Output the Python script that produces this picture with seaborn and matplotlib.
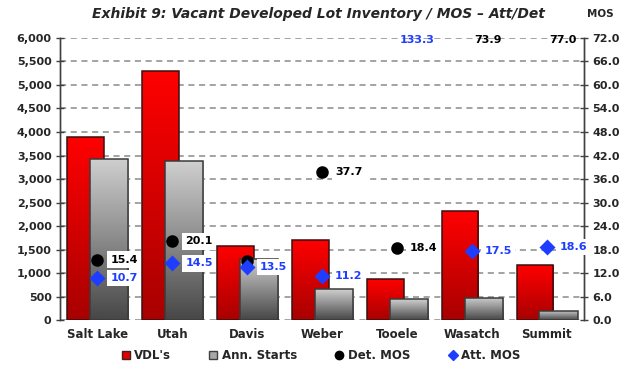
import numpy as np
import pandas as pd
import matplotlib
matplotlib.use("Agg")
import matplotlib.pyplot as plt
import matplotlib.transforms as mtransforms
from matplotlib.colors import LinearSegmentedColormap
from matplotlib.lines import Line2D
from matplotlib.ticker import FuncFormatter, MultipleLocator
import seaborn as sns

regions = ["Salt Lake", "Utah", "Davis", "Weber", "Tooele", "Wasatch", "Summit"]
vdls = [3900, 5300, 1580, 1710, 870, 2310, 1170]
ann_starts = [3430, 3380, 1300, 650, 440, 470, 200]
det_mos = [15.4, 20.1, 15.0, 37.7, 18.4, 73.9, 77.0]
att_mos = [10.7, 14.5, 13.5, 11.2, 133.3, 17.5, 18.6]
hidden_det_labels = ["Davis"]  # label sits behind the Att. MOS label

title = "Exhibit 9: Vacant Developed Lot Inventory / MOS \u2013 Att/Det"
mos_max = 72

sns.set_style("white")
plt.rcParams["font.family"] = ["DejaVu Sans"]
plt.rcParams["font.weight"] = "bold"

fig, ax = plt.subplots(figsize=(6.31, 3.67), dpi=100)
fig.subplots_adjust(left=0.095, right=0.9255, top=0.8965, bottom=0.128)

df = pd.DataFrame({"region": regions, "vdl": vdls, "starts": ann_starts})
sns.barplot(data=df, x="region", y="vdl", ax=ax, width=0.49, color="red")
n_red = len(ax.patches)
sns.barplot(data=df, x="region", y="starts", ax=ax, width=0.51, color="gray")


def gradient_bar(patch, shift, top, bottom, z):
    # shift the whole series sideways and paint a vertical gradient inside each bar
    tr = mtransforms.Affine2D().translate(shift, 0) + ax.transData
    patch.set_transform(tr)
    x0, y0 = patch.get_x(), patch.get_y()
    w, h = patch.get_width(), patch.get_height()
    cmap = LinearSegmentedColormap.from_list("g", [bottom, top])
    grad = np.linspace(0, 1, 128).reshape(-1, 1)
    im = ax.imshow(grad, extent=[x0, x0 + w, y0, y0 + h], origin="lower",
                   aspect="auto", cmap=cmap, zorder=z, interpolation="bilinear")
    im.set_transform(tr)
    im.set_clip_path(patch)
    patch.set_facecolor("none")
    patch.set_zorder(z + 0.05)


for i, p in enumerate(ax.patches):
    if i < n_red:
        gradient_bar(p, -0.155, "#ff0000", "#a80000", 1.0)
        p.set_edgecolor("#3a1010")
    else:
        gradient_bar(p, 0.16, "#cfcfcf", "#474747", 1.2)
        p.set_edgecolor("#3a3a3a")
    p.set_linewidth(1.1)

ax.set_xlim(-0.5, len(regions) - 0.5)
ax.set_ylim(0, 6000)
ax.yaxis.set_major_locator(MultipleLocator(500))
ax.yaxis.set_major_formatter(FuncFormatter(lambda v, _: f"{v:,.0f}"))
ax.set_axisbelow(True)
ax.yaxis.grid(True, linestyle=(0, (4, 3)), color="#8a8a8a", linewidth=1.1)
ax.set_xlabel("")
ax.set_ylabel("")

# MOS on the right axis
ax2 = ax.twinx()
sns.pointplot(x=regions, y=det_mos, ax=ax2, linestyle="none", marker="o",
              color="black", markersize=7)
sns.pointplot(x=regions, y=att_mos, ax=ax2, linestyle="none", marker="D",
              color="#1f3dff", markersize=6)
ax2.set_xlim(-0.5, len(regions) - 0.5)
ax2.set_ylim(0, mos_max)
ax2.yaxis.set_major_locator(MultipleLocator(6))
ax2.yaxis.set_major_formatter(FuncFormatter(lambda v, _: f"{v:.1f}"))
ax2.set_ylabel("")

for series, color in [(det_mos, "black"), (att_mos, "#1f3dff")]:
    for i, (reg, v) in enumerate(zip(regions, series)):
        if series is det_mos and reg in hidden_det_labels:
            continue
        over = v > mos_max
        ax2.annotate(f"{v:.1f}", (i, min(v, mos_max)),
                     xytext=(3 if over else 13, -2 if over else 0),
                     textcoords="offset pixels", ha="left", va="center",
                     fontsize=8, fontweight="bold", color=color,
                     annotation_clip=False, zorder=6,
                     bbox=dict(boxstyle="square,pad=0.3", fc="white", ec="none")
                     if not over else None)

for a in (ax, ax2):
    for s in a.spines.values():
        s.set_color("#404040")
        s.set_linewidth(1.0)
    a.spines["top"].set_visible(False)
    a.spines["bottom"].set_visible(False)

ax.tick_params(axis="y", direction="inout", length=6, width=1, color="#404040",
               labelsize=8, pad=3)
ax2.tick_params(axis="y", direction="inout", length=6, width=1, color="#404040",
                labelsize=8, pad=3)
ax.set_xticks(range(len(regions)))
ax.set_xticklabels(regions, fontsize=8.5, fontweight="bold")
ax.tick_params(axis="x", length=0, pad=6)

fig.text(0.505, 0.963, title, ha="center", va="center", fontsize=10,
         fontweight="bold", fontstyle="italic")
fig.text(0.951, 0.963, "MOS", ha="center", va="center", fontsize=7.5,
         fontweight="bold")

handles = [
    Line2D([], [], ls="none", marker="s", markersize=6, markerfacecolor="#e00000",
           markeredgecolor="#402020", label="VDL's"),
    Line2D([], [], ls="none", marker="s", markersize=6, markerfacecolor="#a8a8a8",
           markeredgecolor="#404040", label="Ann. Starts"),
    Line2D([], [], ls="none", marker="o", markersize=6, color="black",
           label="Det. MOS"),
    Line2D([], [], ls="none", marker="D", markersize=5, color="#1f3dff",
           label="Att. MOS"),
]
fig.legend(handles=handles, loc="center", bbox_to_anchor=(0.508, 0.03), ncol=4,
           frameon=False, fontsize=8.5, handlelength=0.8, handletextpad=0.3,
           columnspacing=3.2)

fig.savefig("out.png", dpi=100)
